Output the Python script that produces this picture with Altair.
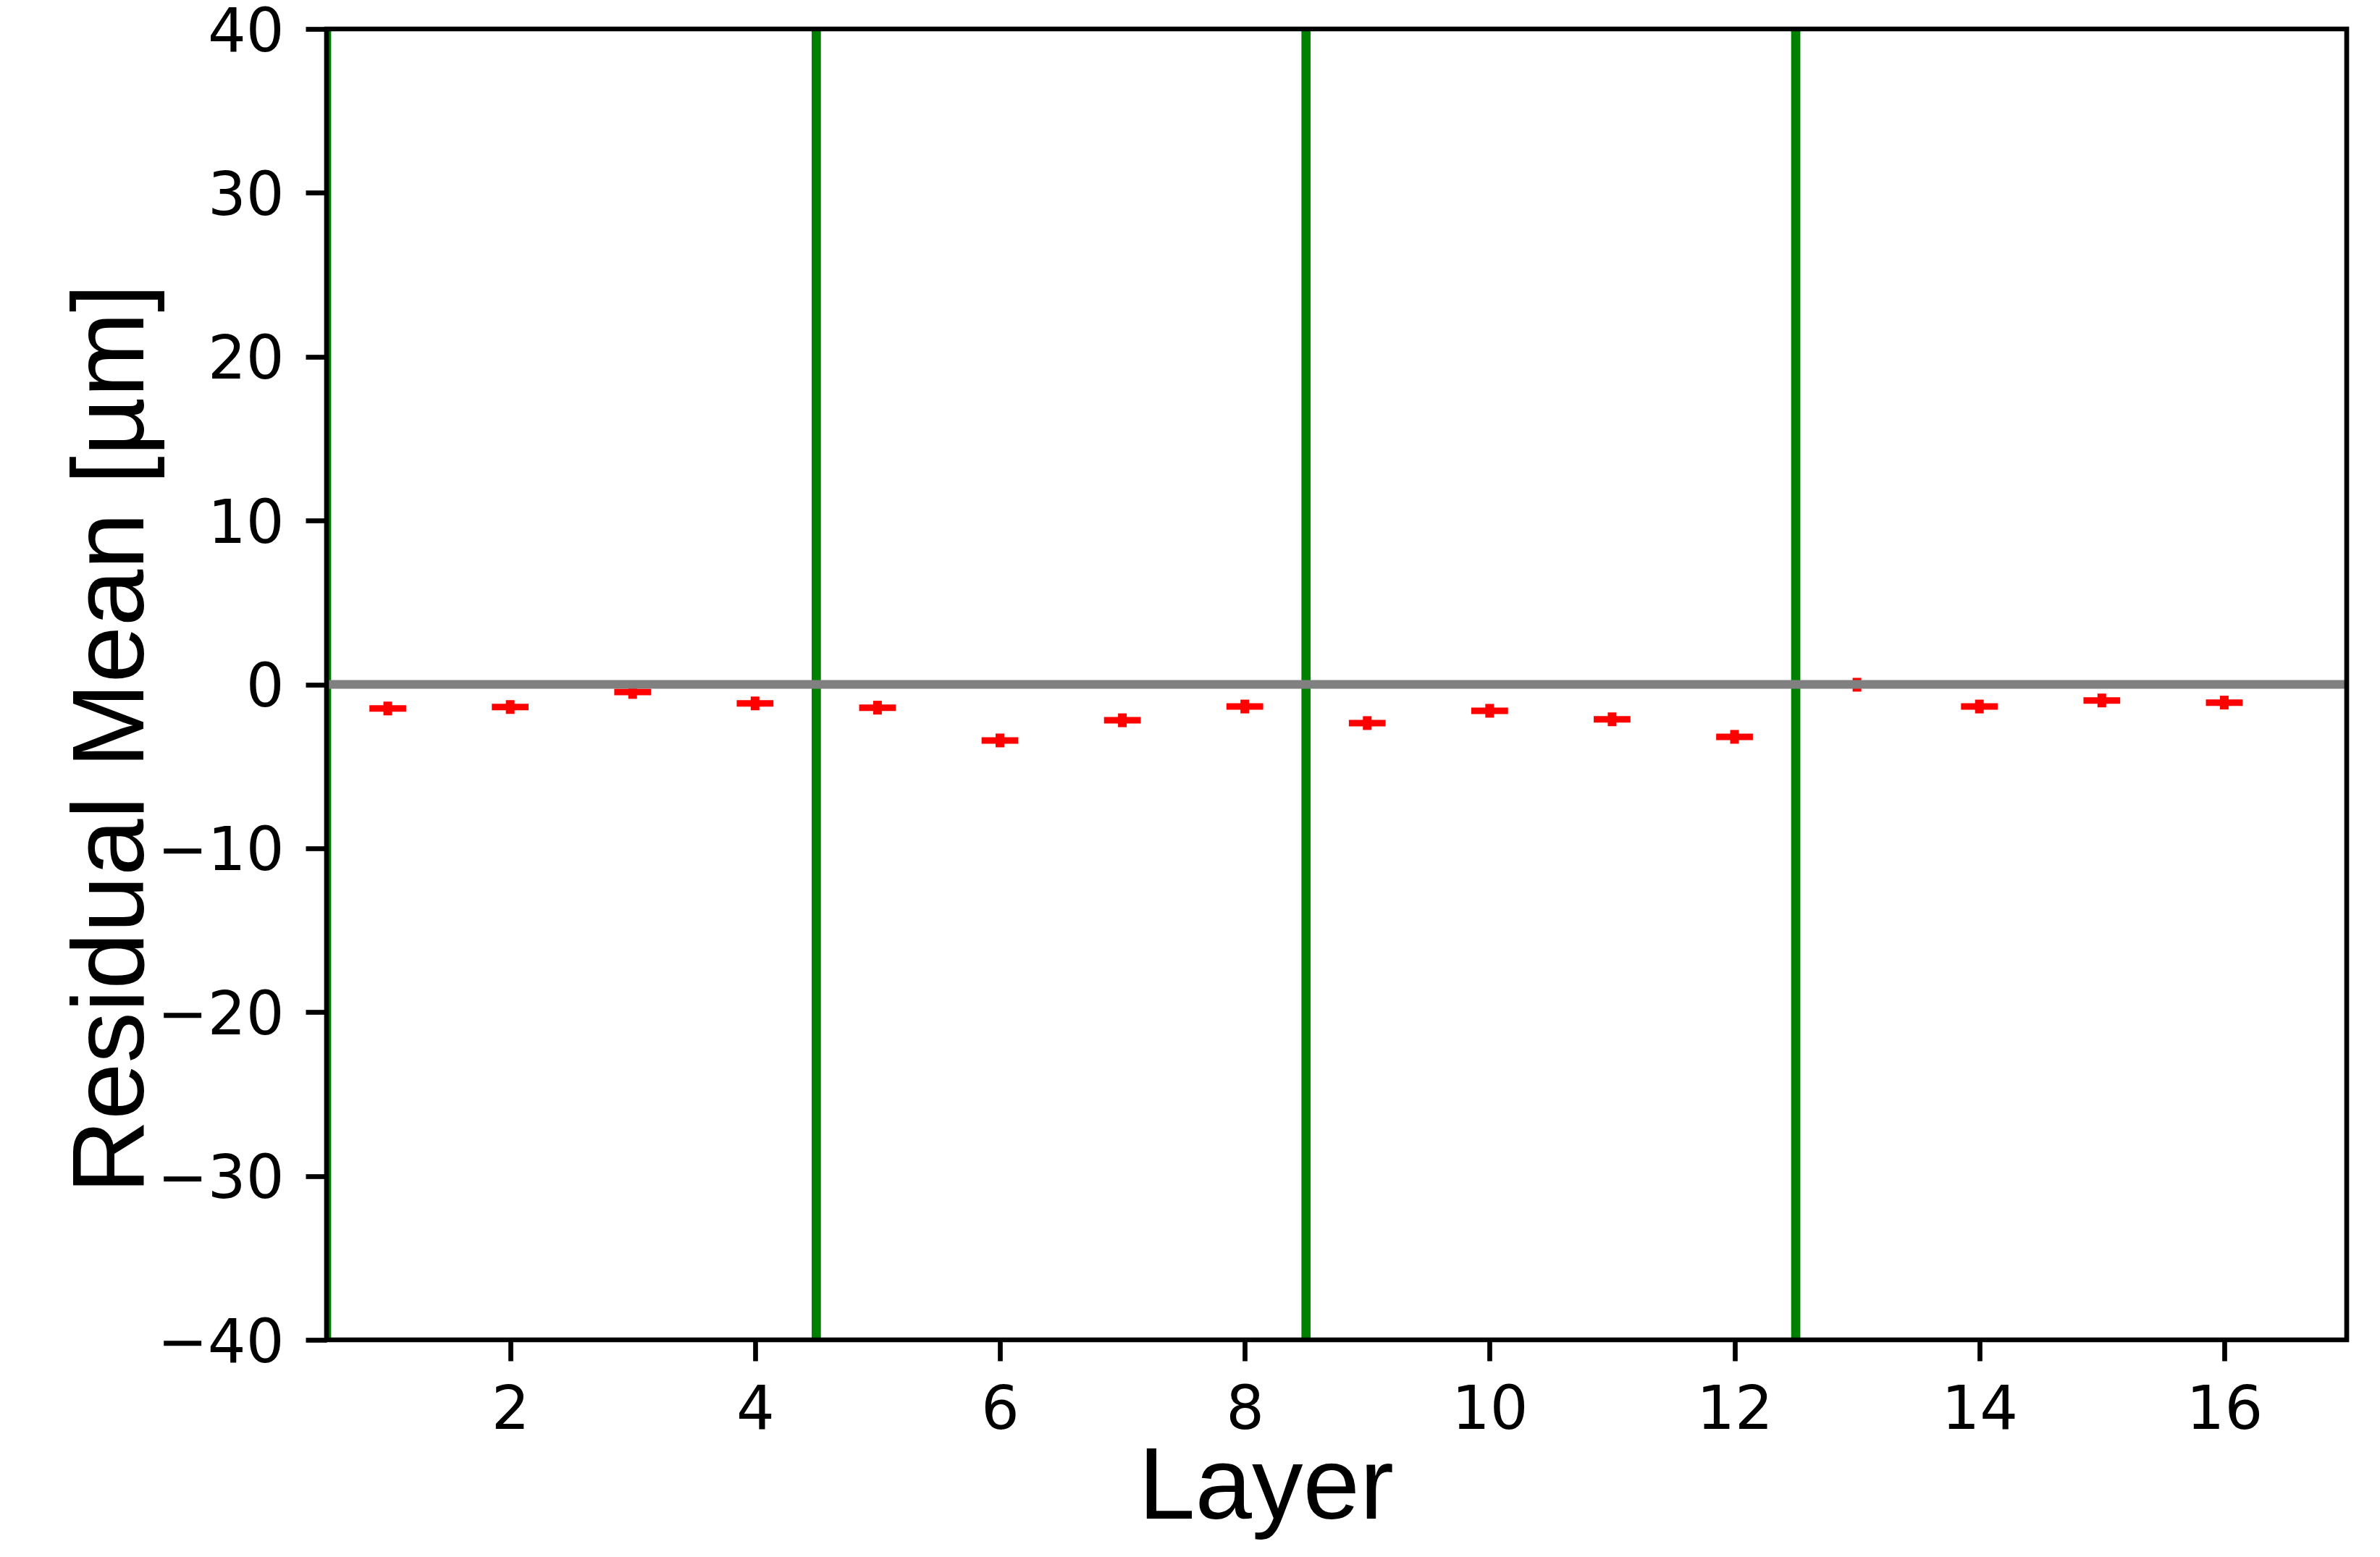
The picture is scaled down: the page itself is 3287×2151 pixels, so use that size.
import altair as alt
import pandas as pd

# ---- data ----
layers = [1, 2, 3, 4, 5, 6, 7, 8, 9, 10, 11, 12, 13, 14, 15, 16]
means = [-1.47, -1.38, -0.46, -1.16, -1.42, -3.42, -2.19, -1.35,
         -2.36, -1.61, -2.13, -3.20, -0.02, -1.35, -0.98, -1.11]
y_errors = [0.42, 0.42, 0.42, 0.42, 0.42, 0.42, 0.42, 0.42,
            0.42, 0.42, 0.42, 0.42, 0.42, 0.42, 0.42, 0.42]
x_halfwidth = [0.15, 0.15, 0.15, 0.15, 0.15, 0.15, 0.15, 0.15,
               0.15, 0.15, 0.15, 0.15, 0.15, 0.15, 0.15, 0.15]
separators = [0.5, 4.5, 8.5, 12.5]
reference_level = [0]
x_ticks = [2, 4, 6, 8, 10, 12, 14, 16]
y_ticks = [-40, -30, -20, -10, 0, 10, 20, 30, 40]
X_DOMAIN = [0.5, 17]
Y_DOMAIN = [-40, 40]

df = pd.DataFrame({"layer": layers, "m": means, "e": y_errors, "w": x_halfwidth})
df["lo"] = df["m"] - df["e"]
df["hi"] = df["m"] + df["e"]
df["xl"] = df["layer"] - df["w"]
df["xr"] = df["layer"] + df["w"]
sep_df = pd.DataFrame({"pos": separators})
zero_df = pd.DataFrame({"v": reference_level})
frame_df = pd.DataFrame({"x0": [X_DOMAIN[0]], "x1": [X_DOMAIN[1]],
                         "y0": [Y_DOMAIN[0]], "y1": [Y_DOMAIN[1]]})

xscale = alt.Scale(domain=X_DOMAIN, nice=False, zero=False)
yscale = alt.Scale(domain=Y_DOMAIN, nice=False, zero=False)

common_axis = dict(grid=False, domain=False, tickSize=29, tickWidth=6.7,
                   tickColor="black", labelFont="DejaVu Sans", labelFontSize=83,
                   labelColor="black", labelFlush=False, labelOverlap=False,
                   titleFont="Liberation Sans", titleFontSize=141,
                   titleFontWeight="normal", titleColor="black",
                   titleBaseline="alphabetic", titleAlign="center")

axis_x = alt.Axis(values=x_ticks, title="Layer", labelPadding=27,
                  titleX=1297, titleY=246, **common_axis)
axis_y = alt.Axis(values=y_ticks, title="Residual Mean [µm]", labelPadding=30,
                  labelOffset=5, titleAngle=270, titleX=-254, titleY=980,
                  **common_axis)

green = alt.Chart(sep_df).mark_rule(color="#008000", strokeWidth=12.7, clip=True).encode(
    x=alt.X("pos:Q", scale=xscale, axis=axis_x),
)

vbar = alt.Chart(df).mark_rule(color="#ff0000", strokeWidth=12).encode(
    x=alt.X("layer:Q", scale=xscale, axis=axis_x),
    y=alt.Y("lo:Q", scale=yscale, axis=axis_y),
    y2="hi:Q",
)

hbar = alt.Chart(df).mark_rule(color="#ff0000", strokeWidth=9).encode(
    x=alt.X("xl:Q", scale=xscale, axis=axis_x),
    x2="xr:Q",
    y=alt.Y("m:Q", scale=yscale, axis=axis_y),
)

gray = alt.Chart(zero_df).mark_rule(color="#808080", strokeWidth=12).encode(
    y=alt.Y("v:Q", scale=yscale, axis=axis_y),
)

frame = alt.Chart(frame_df).mark_rect(fillOpacity=0, stroke="black", strokeWidth=6.7).encode(
    x=alt.X("x0:Q", scale=xscale, axis=axis_x),
    x2="x1:Q",
    y=alt.Y("y0:Q", scale=yscale, axis=axis_y),
    y2="y1:Q",
)

chart = alt.layer(green, vbar, hbar, gray, frame).properties(
    width=2790,
    height=1811,
    autosize=alt.AutoSizeParams(type="none"),
    padding={"left": 443, "top": 32, "right": 30, "bottom": 290},
    background="white",
).configure_view(stroke=None)

chart.save("out.html", embed_options={"renderer": "svg", "actions": False})
